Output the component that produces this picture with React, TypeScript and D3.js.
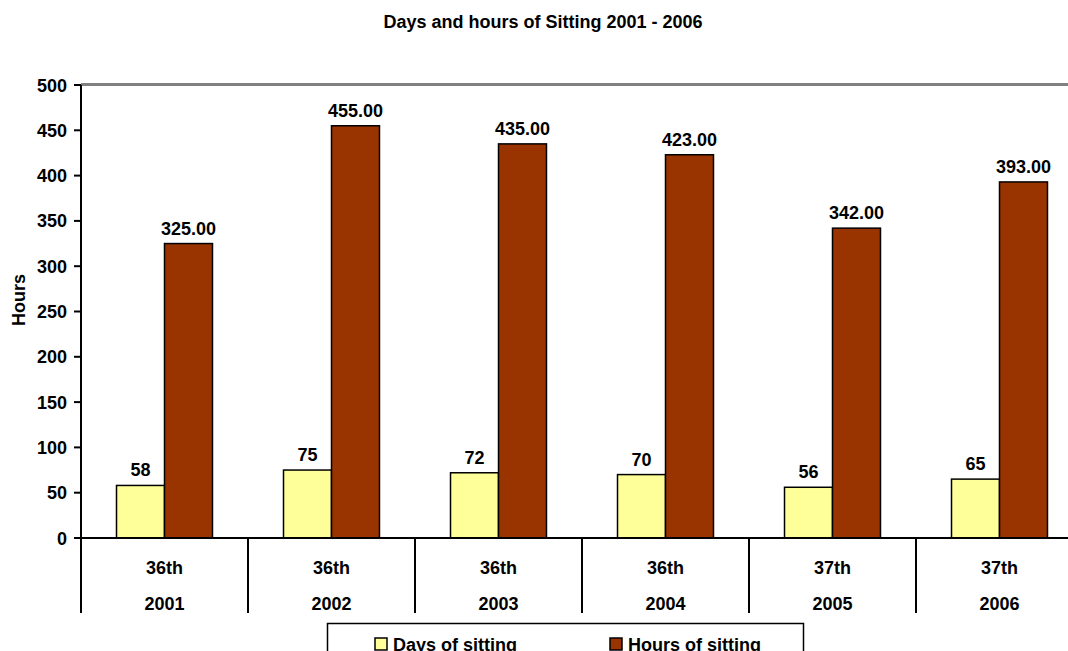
import React from "react";
import * as d3 from "d3";

const sessions = ["36th", "36th", "36th", "36th", "37th", "37th"];
const years = ["2001", "2002", "2003", "2004", "2005", "2006"];
const daysOfSitting = [58, 75, 72, 70, 56, 65];
const hoursOfSitting = [325, 455, 435, 423, 342, 393];
const yTicks = [0, 50, 100, 150, 200, 250, 300, 350, 400, 450, 500];
const seriesNames = ["Days of sitting", "Hours of sitting"];
const seriesColors = ["#FFFF99", "#993300"];

const W = 1068;
const H = 651;
const FONT = "'Liberation Sans', Arial, sans-serif";

export default function App() {
  const left = 81;
  const right = 1083;
  const top = 85;
  const bottom = 538;
  const y = d3.scaleLinear().domain([0, 500]).range([bottom, top]);
  const x0 = d3.scaleBand<string>().domain(years).range([left, right]).padding(0);
  const step = x0.bandwidth();
  const x1 = d3
    .scaleBand<string>()
    .domain(seriesNames)
    .range([0, step])
    .paddingInner(0)
    .paddingOuter(0.74);
  const series = [daysOfSitting, hoursOfSitting];
  const fmt = [(v: number) => String(v), (v: number) => d3.format(".2f")(v)];

  return (
    <svg
      width={W}
      height={H}
      style={{ position: "absolute", left: 0, top: 0, background: "#fff" }}
      fontFamily={FONT}
      fontWeight="bold"
    >
      <text x={543} y={28} textAnchor="middle" fontSize={18}>
        Days and hours of Sitting 2001 - 2006
      </text>

      {/* top plot border */}
      <line x1={left} x2={W} y1={top - 0.5} y2={top - 0.5} stroke="#808080" strokeWidth={3} />

      {/* bars */}
      {years.map((yr, i) => (
        <g key={yr} transform={`translate(${x0(yr)},0)`}>
          {series.map((s, j) => {
            const bx = x1(seriesNames[j])!;
            const bw = x1.bandwidth();
            return (
              <g key={j}>
                <rect
                  x={bx}
                  y={y(s[i])}
                  width={bw}
                  height={bottom - y(s[i])}
                  fill={seriesColors[j]}
                  stroke="#000"
                  strokeWidth={1.5}
                />
                <text x={bx + bw / 2} y={y(s[i]) - 9} textAnchor="middle" fontSize={18}>
                  {fmt[j](s[i])}
                </text>
              </g>
            );
          })}
        </g>
      ))}

      {/* y axis */}
      <line x1={left} x2={left} y1={top} y2={613} stroke="#000" strokeWidth={2} />
      {yTicks.map((t) => (
        <g key={t}>
          <line x1={left - 7} x2={left} y1={y(t)} y2={y(t)} stroke="#000" strokeWidth={2} />
          <text x={67} y={y(t) + 6.5} textAnchor="end" fontSize={18}>
            {t}
          </text>
        </g>
      ))}
      <text
        transform={`translate(25,300) rotate(-90)`}
        textAnchor="middle"
        fontSize={18}
      >
        Hours
      </text>

      {/* x axis */}
      <line x1={left - 7} x2={W} y1={bottom} y2={bottom} stroke="#000" strokeWidth={2} />
      {years.map((yr, i) => (
        <g key={yr}>
          <line
            x1={x0(yr)! + step}
            x2={x0(yr)! + step}
            y1={bottom}
            y2={613}
            stroke="#000"
            strokeWidth={2}
          />
          <text x={x0(yr)! + step / 2} y={574} textAnchor="middle" fontSize={18}>
            {sessions[i]}
          </text>
          <text x={x0(yr)! + step / 2} y={610} textAnchor="middle" fontSize={18}>
            {yr}
          </text>
        </g>
      ))}

      {/* legend */}
      <rect x={327.5} y={623.5} width={476} height={40} fill="#fff" stroke="#000" strokeWidth={1.5} />
      {seriesNames.map((n, j) => {
        const sx = j === 0 ? 375 : 610;
        return (
          <g key={n}>
            <rect x={sx} y={638} width={12} height={12} fill={seriesColors[j]} stroke="#000" strokeWidth={1.5} />
            <text x={sx + 18} y={651} fontSize={18}>
              {n}
            </text>
          </g>
        );
      })}
    </svg>
  );
}
